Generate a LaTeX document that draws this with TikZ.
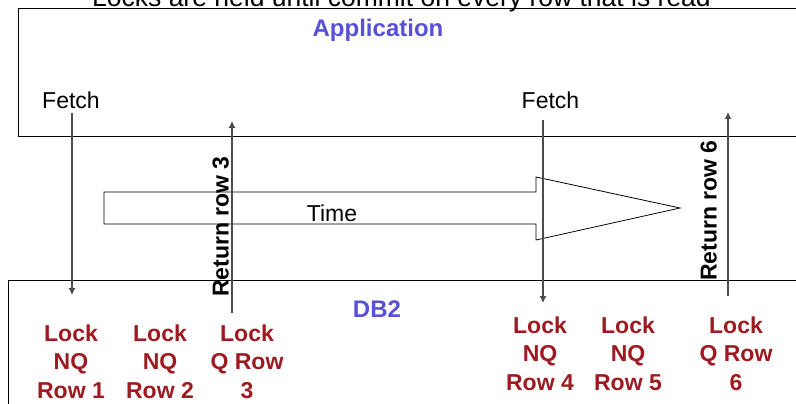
\documentclass[tikz,border=0pt]{standalone}
\usepackage{fontspec}
\setmainfont{Liberation Sans}
\usetikzlibrary{arrows.meta}
\definecolor{appblue}{RGB}{88,80,214}
\definecolor{lockred}{RGB}{158,26,32}

\begin{document}
\begin{tikzpicture}[x=1pt,y=-1pt,
    flow/.style={draw=black!70,line width=1.1pt,-{Latex[length=7pt,width=7pt]}},
    lbl/.style={inner sep=0pt,anchor=base,font=\fontsize{23}{28.5}\selectfont},
    head/.style={lbl,font=\fontsize{24}{28}\selectfont\bfseries,text=appblue},
    lock/.style={inner sep=0pt,anchor=north,align=center,text=lockred,
      font=\fontsize{23}{28.5}\selectfont\bfseries},
    ret/.style={lbl,rotate=90,font=\fontsize{23}{28}\selectfont\bfseries}]
    \useasboundingbox (0,0) rectangle (796,404);

    % application and DB2 boxes run off the page
    \draw[line width=0.9pt] (810,8) -| (18,136) -- (810,136);
    \draw[line width=0.9pt] (810,280) -| (8,420);

    \node[lbl,font=\fontsize{26.5}{30}\selectfont] (title) at (401.5,7)
      {Locks are held until commit on every row that is read};
    \node[head] (app) at (378,37) {Application};
    \node[head] (db) at (377,317) {DB2};

    % time arrow
    \draw[line width=0.8pt] (104,192) -- (536,192) -- (536,177) -- (680,208)
      -- (536,240) -- (536,224) -- (104,224) -- cycle;
    \node[lbl] (time) at (332,221) {Time};

    % fetches
    \node[lbl] (fetchA) at (71,109) {Fetch};
    \node[lbl] (fetchB) at (550.5,109) {Fetch};
    \coordinate (lockA) at (72,295);
    \coordinate (lockB) at (543,303);
    \draw[flow,shorten <=4pt] (fetchA.south -| lockA) -- (lockA);
    \draw[flow,shorten <=11pt] (fetchB.south -| lockB) -- (lockB);

    % returned rows
    \coordinate (retAfoot) at (232,313);
    \coordinate (retAtip) at (232,121);
    \coordinate (retBfoot) at (728,296);
    \coordinate (retBtip) at (728,112);
    \draw[flow] (retAfoot) -- (retAtip);
    \draw[flow] (retBfoot) -- (retBtip);
    \node[ret] (retA) at (228.5,226.5) {Return row 3};
    \node[ret] (retB) at (716.5,210.5) {Return row 6};

    % locks taken in DB2
    \node[lock] (row1) at (71,324.3) {Lock\\NQ\\Row 1};
    \node[lock] (row2) at (160,324.3) {Lock\\NQ\\Row 2};
    \node[lock] (row3) at (247,324.3) {Lock\\Q Row\\3};
    \node[lock] (row4) at (540,316.3) {Lock\\NQ\\Row 4};
    \node[lock] (row5) at (628,316.3) {Lock\\NQ\\Row 5};
    \node[lock] (row6) at (736,316.3) {Lock\\Q Row\\6};
\end{tikzpicture}
\end{document}
